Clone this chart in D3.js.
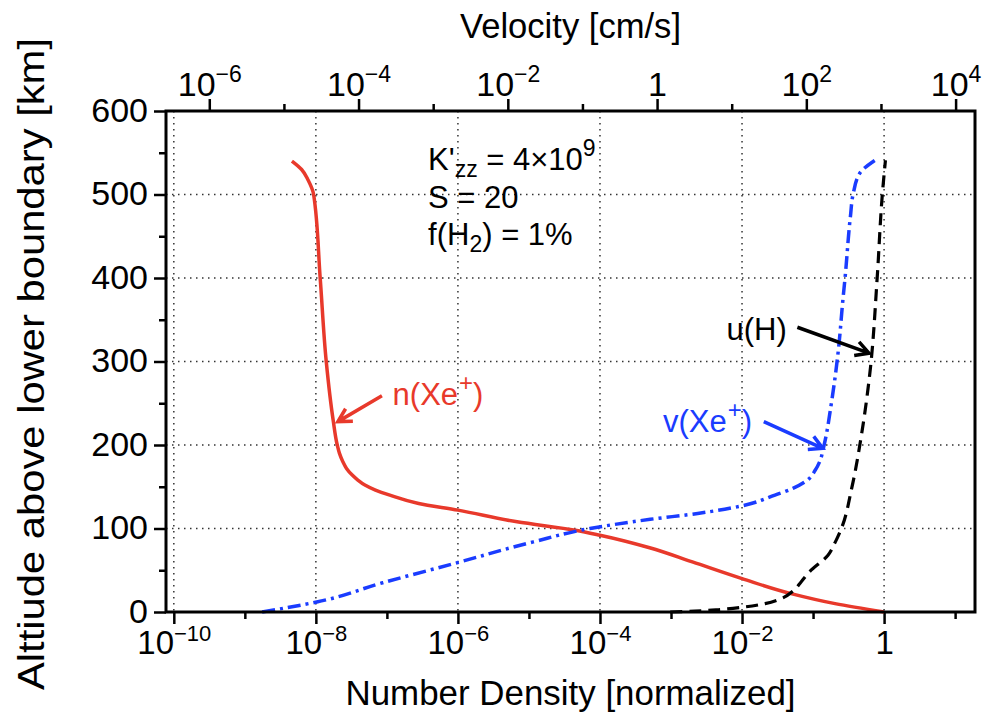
<!DOCTYPE html>
<html>
<head>
<meta charset="utf-8">
<script src="https://cdn.jsdelivr.net/npm/d3@7"></script>
<style>
  body { margin: 0; background: #fff; }
  text { font-family: "Liberation Sans", Arial, Helvetica, sans-serif; }
</style>
</head>
<body>
<div id="chart"></div>
<script>
"use strict";

// altitude [km] and values
const nAlt = [0, 10, 22, 40, 60, 77, 92, 98, 108, 122, 130, 140, 146, 152, 158, 164, 172, 180, 190, 200, 230, 300, 400, 500, 517, 530, 540];
const nXe  = [1, 0.204, 0.049, 0.01, 2.0e-3, 5.0e-4, 1.0e-4, 4.5e-5, 6.8e-6, 1.0e-6, 2.8e-7, 1.1e-7, 6.9e-8,
              4.9e-8, 3.9e-8, 3.25e-8, 2.7e-8, 2.4e-8, 2.15e-8, 2.0e-8, 1.75e-8, 1.4e-8, 1.15e-8, 9.3e-9,
              7.8e-9, 6.3e-9, 4.6e-9];

const vAlt = [0, 12, 35, 58, 84, 100, 111, 118, 127, 140, 148, 157, 170, 180, 197, 253, 314, 374, 401, 473, 502, 526, 541];
const vXe  = [5.1e-6, 2.75e-5, 2.1e-4, 1.9e-3, 0.022, 0.126, 0.81, 3.5, 13.5, 38, 66, 100, 132, 151, 170,
              219, 269, 309, 331, 389, 427, 525, 832];

const uAlt = [0, 1, 3, 6, 10, 16, 25, 36, 48, 68, 84, 100, 149, 213, 293, 401, 502, 541];
const uH   = [1.5, 3.2, 7.1, 14.8, 28, 46, 66, 85, 110, 195, 245, 295, 407, 550, 724, 891, 1047, 1148];

const bottomMajor = [1e-10, 1e-8, 1e-6, 1e-4, 1e-2, 1];
const bottomMinor = [1e-9, 1e-7, 1e-5, 1e-3, 1e-1, 10];
const topMajor = [1e-6, 1e-4, 1e-2, 1, 1e2, 1e4];
const topMinor = [1e-5, 1e-3, 1e-1, 10, 1e3];
const altMajor = [0, 100, 200, 300, 400, 500, 600];
const altMinor = [50, 150, 250, 350, 450, 550];

const size = { width: 984, height: 723, left: 166, right: 975, top: 111, bottom: 612 };
const red = "#e8392b", blue = "#1a3cff";

const svg = d3.select("#chart").append("svg")
    .attr("width", size.width)
    .attr("height", size.height);

const xN = d3.scaleLog().domain([Math.pow(10, -10.11), Math.pow(10, 1.28)]).range([size.left, size.right]);
const xV = d3.scaleLog().domain([Math.pow(10, -6.58), Math.pow(10, 4.26)]).range([size.left, size.right]);
const y = d3.scaleLinear().domain([0, 600]).range([size.bottom, size.top]);

// grid
const grid = svg.append("g").attr("stroke", "#333").attr("stroke-width", 1.5)
    .attr("stroke-dasharray", "1.5,4.5");
grid.selectAll(".gx").data(bottomMajor).enter().append("line")
    .attr("x1", d => xN(d)).attr("x2", d => xN(d))
    .attr("y1", size.top).attr("y2", size.bottom);
grid.selectAll(".gy").data(altMajor.slice(1, -1)).enter().append("line")
    .attr("x1", size.left).attr("x2", size.right)
    .attr("y1", d => y(d)).attr("y2", d => y(d));

function expLabel(sel, small, rise) {
    sel.each(function (d) {
        const t = d3.select(this);
        t.text(null);
        const e = Math.round(Math.log10(d));
        if (e === 0) { t.text("1"); return; }
        t.append("tspan").text("10");
        t.append("tspan").attr("dy", -rise).attr("font-size", small)
            .text(e < 0 ? "\u2212" + (-e) : String(e));
    });
}

function styleAxis(g) {
    g.select(".domain").remove();
    g.selectAll(".tick line").attr("stroke", "#000").attr("stroke-width", 2.5);
}

// bottom axis
svg.append("g").attr("transform", "translate(0," + size.bottom + ")")
    .call(d3.axisBottom(xN).tickValues(bottomMinor).tickSize(7).tickFormat(""))
    .call(styleAxis);
const gb = svg.append("g").attr("transform", "translate(0," + size.bottom + ")")
    .call(d3.axisBottom(xN).tickValues(bottomMajor).tickSize(12).tickPadding(7))
    .call(styleAxis);
gb.selectAll(".tick text").attr("font-size", 33).attr("fill", "#000")
    .call(expLabel, 22, 13);

// top axis
svg.append("g").attr("transform", "translate(0," + size.top + ")")
    .call(d3.axisTop(xV).tickValues(topMinor).tickSize(7).tickFormat(""))
    .call(styleAxis);
const gt = svg.append("g").attr("transform", "translate(0," + size.top + ")")
    .call(d3.axisTop(xV).tickValues(topMajor).tickSize(12).tickPadding(3))
    .call(styleAxis);
gt.selectAll(".tick text").attr("font-size", 34).attr("fill", "#000")
    .call(expLabel, 23, 14);

// left axis
svg.append("g").attr("transform", "translate(" + size.left + ",0)")
    .call(d3.axisLeft(y).tickValues(altMinor).tickSize(7).tickFormat(""))
    .call(styleAxis);
const gl = svg.append("g").attr("transform", "translate(" + size.left + ",0)")
    .call(d3.axisLeft(y).tickValues(altMajor).tickSize(12).tickPadding(6))
    .call(styleAxis);
gl.selectAll(".tick text").attr("font-size", 34).attr("fill", "#000").attr("dy", "0.3em");

// curves
const line = (xs, vals, alts) => d3.line()
    .x((d, i) => xs(vals[i]))
    .y((d, i) => y(alts[i]))
    .curve(d3.curveMonotoneY)(alts);

svg.append("path").attr("d", line(xN, nXe, nAlt))
    .attr("fill", "none").attr("stroke", red).attr("stroke-width", 3.5);
svg.append("path").attr("d", line(xV, vXe, vAlt))
    .attr("fill", "none").attr("stroke", blue).attr("stroke-width", 3.5)
    .attr("stroke-dasharray", "13,5,3,5");
svg.append("path").attr("d", line(xV, uH, uAlt))
    .attr("fill", "none").attr("stroke", "#000").attr("stroke-width", 3.2)
    .attr("stroke-dasharray", "12,7");

// frame
svg.append("rect")
    .attr("x", size.left).attr("y", size.top)
    .attr("width", size.right - size.left).attr("height", size.bottom - size.top)
    .attr("fill", "none").attr("stroke", "#000").attr("stroke-width", 3);

// titles
svg.append("text").attr("x", (size.left + size.right) / 2).attr("y", 38)
    .attr("text-anchor", "middle").attr("font-size", 35)
    .attr("textLength", 221).attr("lengthAdjust", "spacingAndGlyphs")
    .text("Velocity [cm/s]");
svg.append("text").attr("x", (size.left + size.right) / 2).attr("y", 705)
    .attr("text-anchor", "middle").attr("font-size", 35)
    .attr("textLength", 450).attr("lengthAdjust", "spacingAndGlyphs")
    .text("Number Density [normalized]");
svg.append("text")
    .attr("transform", "translate(44,364) rotate(-90)")
    .attr("text-anchor", "middle").attr("font-size", 36)
    .attr("textLength", 652).attr("lengthAdjust", "spacingAndGlyphs")
    .text("Alttiude above lower boundary [km]");

// parameter block
const infoX = xN(Math.pow(10, -6.42));
const info = svg.append("g").attr("font-size", 31).attr("fill", "#000");
const t1 = info.append("text").attr("x", infoX).attr("y", y(529));
t1.append("tspan").text("K'");
t1.append("tspan").attr("font-size", 23).attr("dy", 7).text("zz");
t1.append("tspan").attr("dy", -7).text(" = 4\u00d710");
t1.append("tspan").attr("font-size", 23).attr("dy", -14).text("9");
info.append("text").attr("x", infoX).attr("y", y(484)).text("S = 20");
const t3 = info.append("text").attr("x", infoX).attr("y", y(439));
t3.append("tspan").text("f(H");
t3.append("tspan").attr("font-size", 23).attr("dy", 7).text("2");
t3.append("tspan").attr("dy", -7).text(") = 1%");

// curve labels with arrows
function arrow(color, x1, y1, x2, y2) {
    const a = Math.atan2(y2 - y1, x2 - x1), L = 15, w = 0.5;
    const p = "M" + x1 + "," + y1 + "L" + x2 + "," + y2 +
        "M" + (x2 - L * Math.cos(a - w)) + "," + (y2 - L * Math.sin(a - w)) +
        "L" + x2 + "," + y2 +
        "L" + (x2 - L * Math.cos(a + w)) + "," + (y2 - L * Math.sin(a + w));
    svg.append("path").attr("d", p).attr("fill", "none").attr("stroke", color)
        .attr("stroke-width", 3.5);
}
function label(color, x, yy, main, sup, tail) {
    const t = svg.append("text").attr("x", x).attr("y", yy).attr("font-size", 31).attr("fill", color);
    t.append("tspan").text(main);
    if (sup) {
        t.append("tspan").attr("font-size", 24).attr("dx", 1).attr("dy", -14).text(sup);
        t.append("tspan").attr("dy", 14).text(tail);
    }
}

arrow(red, xN(Math.pow(10, -7.07)), y(259), xN(Math.pow(10, -7.69)), y(228));
label(red, xN(Math.pow(10, -6.92)), y(248), "n(Xe", "+", ")");

arrow(blue, xV(Math.pow(10, 1.43)), y(228), xV(Math.pow(10, 2.22)), y(196));
label(blue, xV(Math.pow(10, 0.08)), y(216), "v(Xe", "+", ")");

arrow("#000", xV(Math.pow(10, 1.88)), y(341), xV(Math.pow(10, 2.84)), y(310));
label("#000", xV(Math.pow(10, 0.93)), y(326), "u(H)");
</script>
</body>
</html>
